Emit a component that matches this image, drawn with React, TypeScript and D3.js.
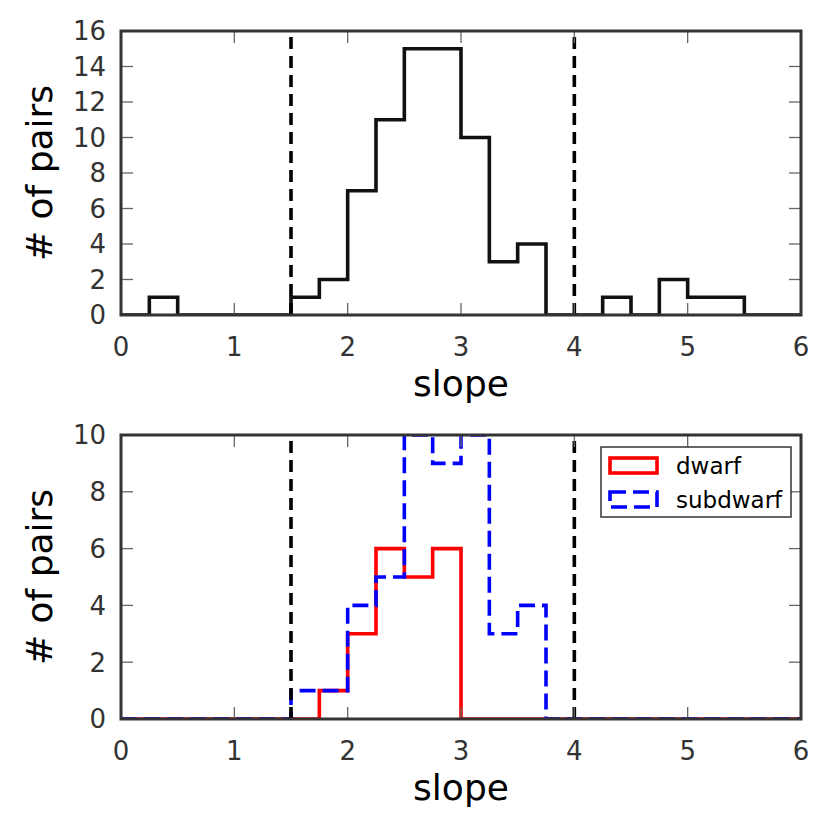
import React from 'react';
import * as d3 from 'd3';

// histogram counts per 0.25-wide bin, slope 0..6
const binWidth = 0.25;
const allPairs = [0, 1, 0, 0, 0, 0, 1, 2, 7, 11, 15, 15, 10, 3, 4, 0, 0, 1, 0, 2, 1, 1, 0, 0];
const dwarf = [0, 0, 0, 0, 0, 0, 0, 1, 3, 6, 5, 6, 0, 0, 0, 0, 0, 0, 0, 0, 0, 0, 0, 0];
const subdwarf = [0, 0, 0, 0, 0, 0, 1, 1, 4, 5, 10, 9, 10, 3, 4, 0, 0, 0, 0, 0, 0, 0, 0, 0];
const cutLines = [1.5, 4];
const xTicks = [0, 1, 2, 3, 4, 5, 6];
const yTicksTop = [0, 2, 4, 6, 8, 10, 12, 14, 16];
const yTicksBottom = [0, 2, 4, 6, 8, 10];

const W = 830;
const H = 830;
const left = 121;
const right = 801;
const font = '"DejaVu Sans", sans-serif';
const tickLen = 12;
const histWidth = 3.6;

type Pt = { x: number; y: number };

function stepPoints(counts: number[]): Pt[] {
  const pts: Pt[] = [{ x: 0, y: 0 }];
  counts.forEach((c, i) => pts.push({ x: i * binWidth, y: c }));
  pts.push({ x: counts.length * binWidth, y: 0 });
  return pts;
}

function Panel({ top, bottom, yMax, yTicks, id, children }: {
  top: number; bottom: number; yMax: number; yTicks: number[]; id: string;
  children: (x: d3.ScaleLinear<number, number>, y: d3.ScaleLinear<number, number>) => React.ReactNode;
}) {
  const x = d3.scaleLinear().domain([0, 6]).range([left, right]);
  const y = d3.scaleLinear().domain([0, yMax]).range([bottom, top]);
  const tickColor = '#666';
  return (
    <g>
      <defs>
        <clipPath id={id}>
          <rect x={left} y={top} width={right - left} height={bottom - top} />
        </clipPath>
      </defs>
      <g clipPath={`url(#${id})`}>{children(x, y)}</g>
      {/* ticks, pointing inward on all sides */}
      {xTicks.map(t => (
        <g key={'x' + t}>
          <line x1={x(t)} x2={x(t)} y1={bottom} y2={bottom - tickLen} stroke={tickColor} strokeWidth={1.3} />
          <line x1={x(t)} x2={x(t)} y1={top} y2={top + tickLen} stroke={tickColor} strokeWidth={1.3} />
          <text x={x(t)} y={bottom + 41} textAnchor="middle" fontSize={26} fill="#333" fontFamily={font}>{t}</text>
        </g>
      ))}
      {yTicks.map(t => (
        <g key={'y' + t}>
          <line x1={left} x2={left + tickLen} y1={y(t)} y2={y(t)} stroke={tickColor} strokeWidth={1.3} />
          <line x1={right} x2={right - tickLen} y1={y(t)} y2={y(t)} stroke={tickColor} strokeWidth={1.3} />
          <text x={106} y={y(t)} dy="0.36em" textAnchor="end" fontSize={26} fill="#333" fontFamily={font}>{t}</text>
        </g>
      ))}
      <rect x={left} y={top} width={right - left} height={bottom - top} fill="none" stroke="#333" strokeWidth={3} />
      <text x={(left + right) / 2} y={bottom + 81} textAnchor="middle" fontSize={36} fill="#000" fontFamily={font}>slope</text>
      <text transform={`translate(52,${(top + bottom) / 2}) rotate(-90)`} textAnchor="middle" fontSize={36} fill="#000" fontFamily={font}># of pairs</text>
    </g>
  );
}

export default function App() {
  const makeLine = (x: d3.ScaleLinear<number, number>, y: d3.ScaleLinear<number, number>) =>
    d3.line<Pt>().x(d => x(d.x)).y(d => y(d.y)).curve(d3.curveStepAfter);

  const cuts = (x: d3.ScaleLinear<number, number>, top: number, bottom: number) =>
    cutLines.map(c => (
      <line key={c} x1={x(c)} x2={x(c)} y1={bottom} y2={top} stroke="#000" strokeWidth={3.6} strokeDasharray="12,7" />
    ));

  return (
    <svg width={W} height={H} style={{ position: 'absolute', left: 0, top: 0, background: '#fff' }}>
      <rect width={W} height={H} fill="#fff" />
      <Panel top={31} bottom={315} yMax={16} yTicks={yTicksTop} id="clipTop">
        {(x, y) => (
          <>
            <path d={makeLine(x, y)(stepPoints(allPairs)) || ''} fill="none" stroke="#111" strokeWidth={histWidth} />
            {cuts(x, 31, 315)}
          </>
        )}
      </Panel>
      <Panel top={435} bottom={719} yMax={10} yTicks={yTicksBottom} id="clipBottom">
        {(x, y) => (
          <>
            <path d={makeLine(x, y)(stepPoints(dwarf)) || ''} fill="none" stroke="#ff0000" strokeWidth={histWidth} />
            <path d={makeLine(x, y)(stepPoints(subdwarf)) || ''} fill="none" stroke="#0000ff" strokeWidth={histWidth} strokeDasharray="16,7" />
            {cuts(x, 435, 719)}
          </>
        )}
      </Panel>
      {/* legend */}
      <g fontFamily={font}>
        <rect x={601} y={447} width={190} height={70} fill="#fff" stroke="#333" strokeWidth={1.5} />
        <rect x={610} y={458} width={47} height={15} fill="none" stroke="#ff0000" strokeWidth={histWidth} />
        <rect x={610} y={492} width={47} height={15} fill="none" stroke="#0000ff" strokeWidth={histWidth} strokeDasharray="16,7" />
        <text x={676} y={474} fontSize={23} fill="#000">dwarf</text>
        <text x={676} y={508} fontSize={23} fill="#000">subdwarf</text>
      </g>
    </svg>
  );
}
